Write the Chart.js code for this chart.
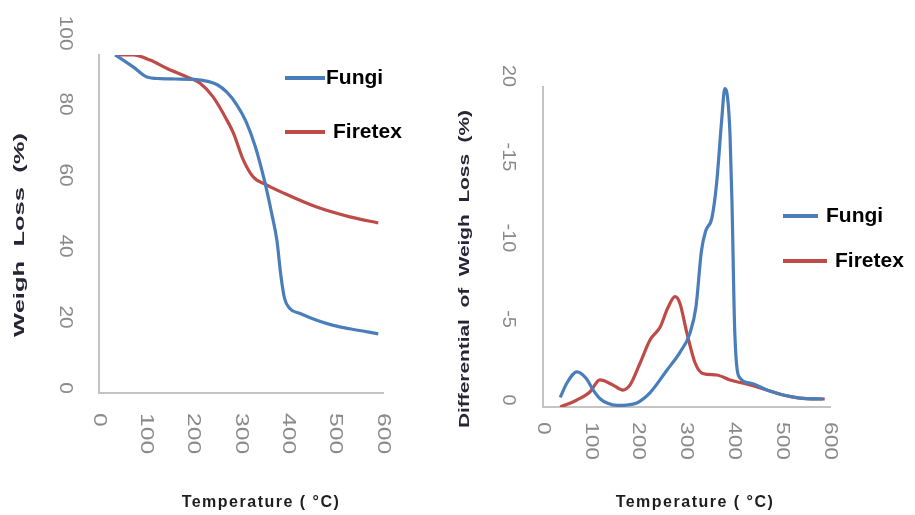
<!DOCTYPE html>
<html><head><meta charset="utf-8">
<script src="https://cdn.jsdelivr.net/npm/chart.js@4/dist/chart.umd.min.js"></script>
<style>
html,body{margin:0;padding:0;background:#fff;width:915px;height:515px;overflow:hidden}
canvas{position:absolute;top:0}
#c1{left:0}
#c2{left:457px}
</style></head><body>
<canvas id="c1" width="457" height="515"></canvas>
<canvas id="c2" width="458" height="515"></canvas>
<script>
// ---- data ----
const seriesNames = ['Fungi', 'Firetex'];
const seriesColors = ['#4A7EBB', '#BE4B48'];

// Left: TGA weight (%)
const tgaFungiT = [34, 51, 72, 101, 130, 160, 200, 230, 250, 270, 290, 310, 330, 351, 365, 376, 384, 392, 403, 425, 460, 495, 530, 590];
const tgaFungiW = [100, 98.5, 96.5, 93.5, 93, 92.9, 92.8, 92.2, 91.2, 89, 85.5, 80.5, 73, 62, 53, 45, 35, 28, 25, 23.5, 21.5, 20, 19, 17.5];
const tgaFiretexT = [34, 72, 108, 144, 186, 213, 241, 270, 284, 305, 326, 355, 389, 460, 530, 590];
const tgaFiretexW = [100, 100, 98.5, 96, 93.5, 91.7, 87.6, 80.8, 76.9, 68.9, 63.9, 61.5, 59.2, 55, 52.1, 50.3];

// Right: DTG (magnitude)
const dtgFungiT = [36, 50, 71, 90, 105, 120, 134, 155, 175, 196, 224, 259, 286, 307, 320, 331, 340, 353, 363, 374, 380, 386, 391, 395, 401, 412, 433, 468, 502, 537, 585];
const dtgFungiV = [0.6, 1.5, 2.2, 1.8, 1.06, 0.5, 0.25, 0.1, 0.12, 0.25, 0.9, 2.3, 3.4, 4.6, 6.3, 9.7, 11, 11.8, 14, 18.1, 19.9, 19.3, 17, 12.9, 4.6, 1.8, 1.5, 1.06, 0.75, 0.56, 0.5];
const dtgFiretexT = [36, 71, 98, 119, 146, 167, 182, 203, 224, 245, 261, 276, 286, 301, 318, 334, 363, 391, 433, 468, 502, 537, 589];
const dtgFiretexV = [0, 0.44, 0.94, 1.69, 1.38, 1.06, 1.38, 2.75, 4.2, 5.0, 6.2, 6.9, 6.5, 4.6, 2.75, 2.1, 2.0, 1.69, 1.38, 1.06, 0.75, 0.56, 0.5];

// ticks
const xTickValues = [0, 100, 200, 300, 400, 500, 600];
const xTickLabels = ['0', '100', '200', '300', '400', '500', '600'];
const leftYTickValues = [0, 20, 40, 60, 80, 100];
const leftYTickLabels = ['0', '20', '40', '60', '80', '100'];
const rightYTickValues = [0, 5, 10, 15, 20];
const rightYTickLabels = ['0', '-5', '-10', '-15', '20'];

const xTitle = 'Temperature ( °C)';
const leftYTitle = 'Weigh  Loss  (%)';
const rightYTitle = 'Differential  of  Weigh  Loss  (%)';

function pts(xs, ys) { return xs.map((x, i) => ({x: x, y: ys[i]})); }

const deco = {
  id: 'deco',
  afterDraw(chart, args, o) {
    const ctx = chart.ctx, xs = chart.scales.x, ys = chart.scales.y;
    const ca = chart.chartArea;
    ctx.save();
    // x tick labels (rotated clockwise)
    ctx.fillStyle = '#8a8a8a';
    ctx.font = '19px "Liberation Sans"';
    o.xVals.forEach((v, i) => {
      const px = xs.getPixelForValue(v);
      ctx.save();
      ctx.translate(px, ca.bottom + o.xGap);
      ctx.rotate(Math.PI / 2);
      ctx.scale(o.xStretch, 1);
      ctx.textAlign = 'left'; ctx.textBaseline = 'middle';
      ctx.fillText(o.xLabels[i], 0, 0);
      ctx.restore();
    });
    // y tick labels (rotated clockwise)
    const p0 = ys.getPixelForValue(ys.min);
    o.yVals.forEach((v, i) => {
      const py = ys.getPixelForValue(v);
      const ly = py + o.yShift - o.yK * (p0 - py);
      ctx.save();
      ctx.translate(o.yLabelX, ly);
      ctx.rotate(Math.PI / 2);
      ctx.scale(o.yStretch, 1);
      ctx.textAlign = 'center'; ctx.textBaseline = 'middle';
      ctx.fillText(o.yLabels[i], 0, 0);
      ctx.restore();
    });
    // x title
    ctx.fillStyle = '#1e1e1e';
    ctx.font = 'bold 16px "Liberation Sans"';
    ctx.letterSpacing = '1.5px';
    ctx.textAlign = 'center'; ctx.textBaseline = 'middle';
    ctx.fillText(xTitle, o.xTitleX, o.xTitleY);
    ctx.letterSpacing = '0px';
    // y title (rotated counter-clockwise, stretched)
    ctx.save();
    ctx.fillStyle = '#262636';
    ctx.font = 'bold 15px "Liberation Sans"';
    const w = ctx.measureText(o.yTitle).width;
    ctx.translate(o.yTitleX, o.yTitleY);
    ctx.rotate(-Math.PI / 2);
    ctx.scale(o.yTitleLen / w, 1);
    ctx.textAlign = 'center'; ctx.textBaseline = 'middle';
    ctx.fillText(o.yTitle, 0, 0);
    ctx.restore();
    // legend
    ctx.font = 'bold 21px "Liberation Sans"';
    ctx.textAlign = 'left'; ctx.textBaseline = 'middle';
    chart.data.datasets.forEach((ds, i) => {
      const L = o.legend[i];
      ctx.strokeStyle = ds.borderColor;
      ctx.lineWidth = 4;
      ctx.beginPath(); ctx.moveTo(L.x0, L.y); ctx.lineTo(L.x1, L.y); ctx.stroke();
      ctx.fillStyle = '#000';
      ctx.fillText(ds.label, L.tx, L.y);
    });
    ctx.restore();
  }
};

function makeChart(id, datasets, yMax, pad, decoOpts) {
  return new Chart(document.getElementById(id), {
    type: 'line',
    data: {datasets: datasets},
    options: {
      responsive: false,
      animation: false,
      layout: {padding: pad},
      plugins: {legend: {display: false}, tooltip: {enabled: false}, deco: decoOpts},
      elements: {point: {radius: 0}, line: {borderWidth: 3.2, cubicInterpolationMode: 'monotone'}},
      scales: {
        x: {type: 'linear', min: 0, max: 600, grid: {display: false, drawTicks: false, tickLength: 0},
            border: {display: true, color: '#c4c4c4', width: 2},
            ticks: {display: false, stepSize: 100}},
        y: {type: 'linear', min: 0, max: yMax, grid: {display: false, drawTicks: false, tickLength: 0},
            border: {display: true, color: '#c4c4c4', width: 2},
            ticks: {display: false}}
      }
    },
    plugins: [deco]
  });
}

makeChart('c1', [
  {label: seriesNames[0], data: pts(tgaFungiT, tgaFungiW), borderColor: seriesColors[0]},
  {label: seriesNames[1], data: pts(tgaFiretexT, tgaFiretexW), borderColor: seriesColors[1]}
], 100, {left: 99, right: 74, top: 55, bottom: 122}, {
  xVals: xTickValues, xLabels: xTickLabels, xGap: 20, xStretch: 1.3,
  yVals: leftYTickValues, yLabels: leftYTickLabels, yShift: -5, yK: 0.05, yLabelX: 65, yStretch: 1.1,
  xTitleX: 261, xTitleY: 503,
  yTitle: leftYTitle, yTitleX: 20, yTitleY: 235, yTitleLen: 204,
  legend: [{x0: 285, x1: 325, y: 78, tx: 326}, {x0: 285, x1: 325, y: 132, tx: 333}]
});

makeChart('c2', [
  {label: seriesNames[0], data: pts(dtgFungiT, dtgFungiV), borderColor: seriesColors[0]},
  {label: seriesNames[1], data: pts(dtgFiretexT, dtgFiretexV), borderColor: seriesColors[1]}
], 20, {left: 86, right: 85, top: 87, bottom: 108}, {
  xVals: xTickValues, xLabels: xTickLabels, xGap: 15, xStretch: 1.2,
  yVals: rightYTickValues, yLabels: rightYTickLabels, yShift: -7, yK: 0.0125, yLabelX: 51, yStretch: 1.05,
  xTitleX: 238, xTitleY: 503,
  yTitle: rightYTitle, yTitleX: 8, yTitleY: 269, yTitleLen: 318,
  legend: [{x0: 326, x1: 361, y: 216, tx: 369}, {x0: 326, x1: 370, y: 261, tx: 378}]
});
</script>
</body></html>
